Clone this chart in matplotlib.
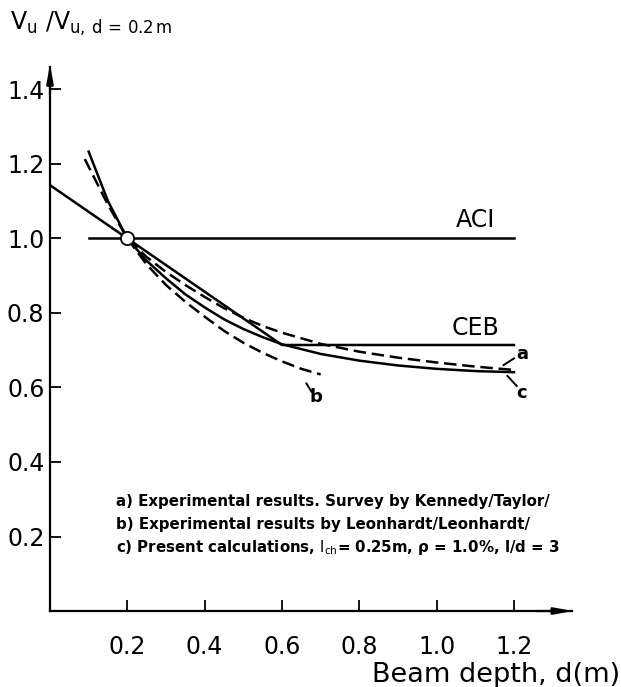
import matplotlib
matplotlib.use("Agg")
import matplotlib.pyplot as plt

d_c = [0.10, 0.15, 0.20, 0.25, 0.30, 0.35, 0.40, 0.45, 0.50, 0.55, 0.60, 0.70, 0.80, 0.90, 1.00, 1.10, 1.20]
v_c = [1.233, 1.10, 1.00, 0.94, 0.893, 0.85, 0.815, 0.783, 0.757, 0.735, 0.716, 0.69, 0.672, 0.659, 0.65, 0.644, 0.641]

d_a = [0.09, 0.15, 0.20, 0.25, 0.30, 0.35, 0.40, 0.45, 0.50, 0.55, 0.60, 0.70, 0.80, 0.90, 1.00, 1.10, 1.20]
v_a = [1.213, 1.09, 1.00, 0.95, 0.91, 0.875, 0.843, 0.813, 0.787, 0.765, 0.747, 0.717, 0.696, 0.68, 0.667, 0.656, 0.647]

d_b = [0.20, 0.25, 0.30, 0.35, 0.40, 0.45, 0.50, 0.55, 0.60, 0.65, 0.70]
v_b = [1.00, 0.93, 0.875, 0.83, 0.79, 0.752, 0.72, 0.693, 0.67, 0.65, 0.635]

d_ceb = [0.0, 0.2, 0.6, 1.2]
v_ceb = [1.143, 1.0, 0.714, 0.714]

d_aci = [0.1, 1.2]
v_aci = [1.0, 1.0]

xticks = [0.2, 0.4, 0.6, 0.8, 1.0, 1.2]
yticks = [0.2, 0.4, 0.6, 0.8, 1.0, 1.2, 1.4]

notes = ["a) Experimental results. Survey by Kennedy/Taylor/",
         "b) Experimental results by Leonhardt/Leonhardt/",
         r"c) Present calculations, $\mathrm{l_{ch}}$= 0.25m, $\rho$ = 1.0%, l/d = 3"]

plt.rcParams['font.family'] = 'DejaVu Sans'
plt.rcParams['mathtext.default'] = 'regular'

fig = plt.figure(figsize=(6.21, 6.87), dpi=100)
ax = fig.add_axes([0.0805, 0.1106, 0.8406, 0.7918])
ax.set_xlim(0, 1.35)
ax.set_ylim(0, 1.46)

lw = 1.8
dash = (5, 2.3)
ax.plot(d_aci, v_aci, 'k-', lw=lw)
ax.plot(d_ceb, v_ceb, 'k-', lw=lw)
ax.plot(d_c, v_c, 'k-', lw=lw)
ax.plot(d_a, v_a, 'k--', lw=lw, dashes=dash)
ax.plot(d_b, v_b, 'k--', lw=lw, dashes=dash)
ax.plot([0.2], [1.0], 'o', ms=9.5, mfc='white', mec='k', mew=1.3)

ax.text(1.10, 1.05, "ACI", fontsize=17, ha='center', va='center')
ax.text(1.10, 0.76, "CEB", fontsize=17, ha='center', va='center')

# curve labels with leader lines
ax.plot([1.173, 1.20], [0.66, 0.678], 'k-', lw=1.4)
ax.text(1.222, 0.69, "a", fontsize=13, ha='center', va='center', fontweight='bold')
ax.plot([1.183, 1.207], [0.631, 0.604], 'k-', lw=1.4)
ax.text(1.22, 0.584, "c", fontsize=13, ha='center', va='center', fontweight='bold')
ax.plot([0.663, 0.676], [0.611, 0.589], 'k-', lw=1.4)
ax.text(0.689, 0.575, "b", fontsize=13, ha='center', va='center', fontweight='bold')

for i, s in enumerate(notes):
    ax.text(0.17, 0.293 - i * 0.061, s, fontsize=10.8, fontweight='bold', va='center')

ax.spines['top'].set_visible(False)
ax.spines['right'].set_visible(False)
ax.spines['left'].set_linewidth(1.6)
ax.spines['bottom'].set_linewidth(1.6)

ax.set_xticks(xticks)
ax.set_xticklabels(["%.1f" % t for t in xticks])
ax.set_yticks(yticks)
ax.set_yticklabels(["%.1f" % t for t in yticks])
ax.tick_params(direction='in', length=8, width=1.3, labelsize=17)
ax.tick_params(axis='x', pad=17)
ax.tick_params(axis='y', pad=4)

# axis arrows
ax.annotate('', xy=(1.36, 0), xytext=(1.25, 0),
            arrowprops=dict(arrowstyle='-|>,head_length=1.1,head_width=0.2', color='k', lw=1.6),
            annotation_clip=False)
ax.annotate('', xy=(0, 1.475), xytext=(0, 1.38),
            arrowprops=dict(arrowstyle='-|>,head_length=1.1,head_width=0.2', color='k', lw=1.6),
            annotation_clip=False)

fig.text(0.016, 0.965, r"$V_u$ /$V_{u,\,d\,=\,0.2\,m}$", fontsize=17, va='center')
fig.text(0.998, 0.007, "Beam depth, d(m)", fontsize=19.5, ha='right', va='baseline')

fig.savefig("out.png", dpi=100)
